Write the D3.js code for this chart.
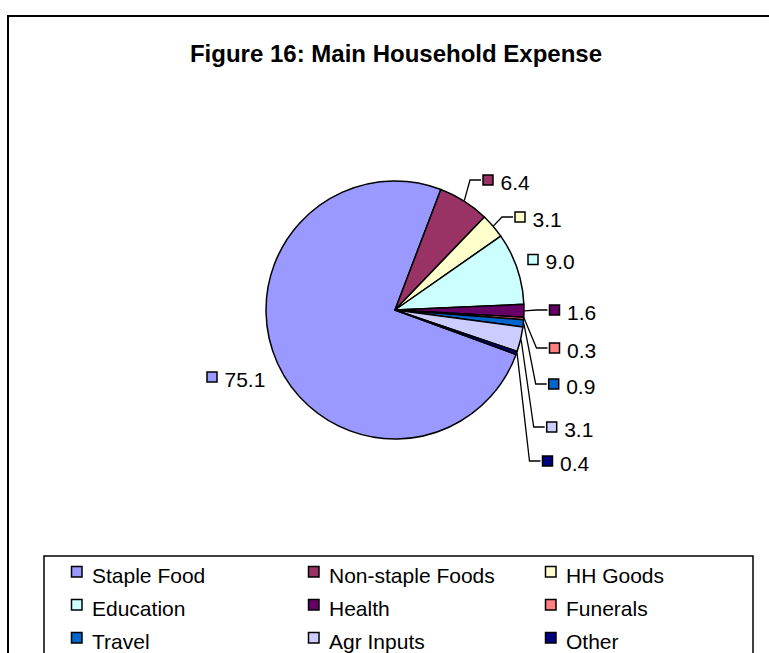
<!DOCTYPE html>
<html>
<head>
<meta charset="utf-8">
<script src="https://cdn.jsdelivr.net/npm/d3@7/dist/d3.min.js"></script>
<style>
  html, body { margin: 0; padding: 0; background: #fff; }
  svg { display: block; font-family: "Liberation Sans", Arial, Helvetica, sans-serif; }
</style>
</head>
<body>
<svg id="chart" width="769" height="653"></svg>
<script>
// Household expense shares (%)
const categories = ["Staple Food", "Non-staple Foods", "HH Goods", "Education", "Health",
                    "Funerals", "Travel", "Agr Inputs", "Other"];
const values = [75.1, 6.4, 3.1, 9.0, 1.6, 0.3, 0.9, 3.1, 0.4];
const colors = ["#9999FF", "#993366", "#FFFFCC", "#CCFFFF", "#660066",
                "#FF8080", "#0066CC", "#CCCCFF", "#000080"];
const titleText = "Figure 16: Main Household Expense";

// Label placement around the pie (offset of the key square from the pie centre)
const labelOffsets = [[-183, 67], [93, -130], [125, -93], [138, -50.5], [159.5, 0],
                      [159.5, 38], [158.7, 74], [156.7, 117], [152.5, 151]];
const labelLeader = [false, true, true, false, true, true, true, true, true];

const svg = d3.select("#chart");

// Chart area frame
svg.append("rect")
  .attr("x", 8).attr("y", 16).attr("width", 800).attr("height", 700)
  .attr("fill", "#fff").attr("stroke", "#000").attr("stroke-width", 2);

// Title
svg.append("text")
  .attr("x", 396).attr("y", 61.5)
  .attr("text-anchor", "middle")
  .attr("font-weight", "bold")
  .attr("font-size", 24)
  .attr("fill", "#000")
  .text(titleText);

// Pie
const cx = 395, cy = 310, R = 129;
const deg = Math.PI / 180;
const start = -249.8 * deg;
const pie = d3.pie().sort(null).value(d => d.value)
  .startAngle(start).endAngle(start + 2 * Math.PI);
const data = categories.map((c, i) => ({ name: c, value: values[i], color: colors[i], i }));
const arcs = pie(data);
const arc = d3.arc().innerRadius(0).outerRadius(R);

const g = svg.append("g").attr("transform", `translate(${cx},${cy})`);
g.selectAll("path.slice")
  .data(arcs)
  .join("path")
  .attr("class", "slice")
  .attr("d", arc)
  .attr("fill", d => d.data.color)
  .attr("stroke", "#000")
  .attr("stroke-width", 1.5)
  .attr("stroke-linejoin", "round");

// Data labels with key squares and leader lines
const sq = 10;
const labels = g.selectAll("g.lbl")
  .data(arcs)
  .join("g")
  .attr("class", "lbl");

labels.filter(d => labelLeader[d.data.i])
  .append("polyline")
  .attr("points", d => {
    const [ox, oy] = labelOffsets[d.data.i];
    const mid = (d.startAngle + d.endAngle) / 2;
    const sx = Math.sin(mid) * (R + 0.5), sy = -Math.cos(mid) * (R + 0.5);
    const left = ox - sq / 2;
    return [[sx, sy], [left - 13, oy], [left - 2, oy]].map(p => p.join(",")).join(" ");
  })
  .attr("fill", "none")
  .attr("stroke", "#000")
  .attr("stroke-width", 1.3);

labels.append("rect")
  .attr("x", d => labelOffsets[d.data.i][0] - sq / 2)
  .attr("y", d => labelOffsets[d.data.i][1] - sq / 2)
  .attr("width", sq).attr("height", sq)
  .attr("fill", d => d.data.color)
  .attr("stroke", "#000").attr("stroke-width", 1.5);

labels.append("text")
  .attr("x", d => labelOffsets[d.data.i][0] + sq / 2 + 7.5)
  .attr("y", d => labelOffsets[d.data.i][1] + 9.5)
  .attr("font-size", 21)
  .attr("fill", "#000")
  .text(d => d.data.value.toFixed(1));

// Legend
svg.append("rect")
  .attr("x", 44).attr("y", 556).attr("width", 709).attr("height", 150)
  .attr("fill", "#fff").attr("stroke", "#000").attr("stroke-width", 1.5);

const legendCols = 3, colStep = 237, rowStep = 33;
const leg = svg.append("g").attr("transform", "translate(71,566)");
const items = leg.selectAll("g.item")
  .data(data)
  .join("g")
  .attr("class", "item")
  .attr("transform", d => `translate(${(d.i % legendCols) * colStep},${Math.floor(d.i / legendCols) * rowStep})`);
items.append("rect")
  .attr("x", 0.5).attr("y", 0.5).attr("width", 10.5).attr("height", 10.5)
  .attr("fill", d => d.color)
  .attr("stroke", "#000").attr("stroke-width", 1.5);
items.append("text")
  .attr("x", 21).attr("y", 17)
  .attr("font-size", 21)
  .attr("fill", "#000")
  .text(d => d.name);
</script>
</body>
</html>
